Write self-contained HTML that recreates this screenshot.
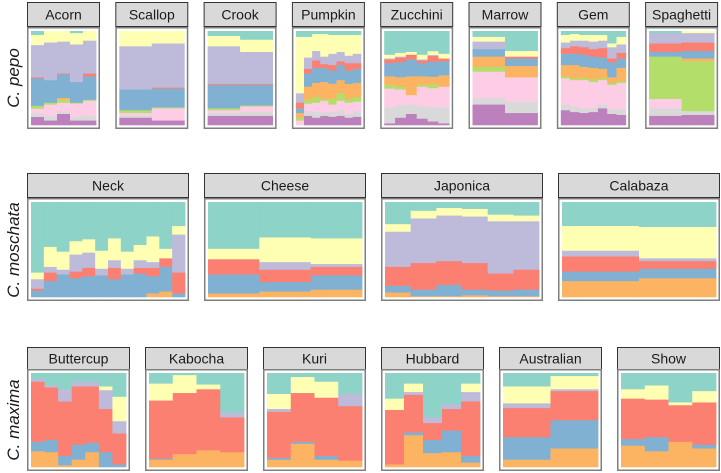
<!DOCTYPE html>
<html><head><meta charset="utf-8"><style>
html,body{margin:0;padding:0;background:#fff;}
svg{display:block;font-family:"Liberation Sans",sans-serif;}
</style></head><body>
<svg id="chart" width="721" height="473" viewBox="0 0 721 473">
<text x="0" y="0" transform="translate(19,78) rotate(-90)" text-anchor="middle" font-size="17" font-style="italic" fill="#1a1a1a">C. pepo</text>
<text x="0" y="0" transform="translate(19,250) rotate(-90)" text-anchor="middle" font-size="17" font-style="italic" fill="#1a1a1a">C. moschata</text>
<text x="0" y="0" transform="translate(19,420) rotate(-90)" text-anchor="middle" font-size="17" font-style="italic" fill="#1a1a1a">C. maxima</text>
</svg>
<script>
// cluster order bottom-up
const clusterColors = ["#BC80BD","#D9D9D9","#FCCDE5","#B3DE69","#FDB462","#80B1D3","#FB8072","#BEBADA","#FFFFB3","#8DD3C7"];
// proportions per individual: [purple, grey, pink, green, orange, blue, red, lavender, yellow, teal]
const pepoNames = ["Acorn","Scallop","Crook","Pumpkin","Zucchini","Marrow","Gem","Spaghetti"];
const acorn = [[9,4,5,3,0,30,1,35,11,4],[5,5,12,2,0,24,0,40,12,0],[12,3,9,3,2,25,1,34,11,0],[5,4,14,1,0,22,0,40,12,2],[5,5,16,1,0,25,3,35,10,0]];
const scallop = [[8,2,3,3,0,22,0,46,16,0],[5,0,13,1,0,20,1,47,13,0]];
const crook = [[10,3,3,2,0,25,1,40,11,5],[10,4,6,1,0,22,1,34,13,9]];
const pumpkin = [[0,0,5,3,5,5,6,10,60,6],[10,5,8,4,14,14,5,12,22,6],[8,6,10,6,15,16,8,10,18,3],[10,4,12,2,18,15,4,8,24,3],[9,5,8,6,16,14,6,12,20,4],[10,6,10,8,14,16,4,10,18,4],[8,4,12,4,16,14,8,8,22,4],[9,6,10,5,15,15,6,10,20,4]];
const zucchini = [[2,17,20,4,9,14,4,1,4,25],[8,13,17,3,10,16,5,1,4,23],[12,10,10,0,20,18,5,0,3,22],[7,13,21,2,9,14,3,1,5,25],[4,15,20,4,8,16,6,1,4,21],[2,17,22,0,12,15,3,0,5,24]];
const marrow = [[22,7,28,5,11,8,0,8,5,6],[13,12,26,0,12,8,2,0,6,21]];
const gem = [[16,6,28,2,12,12,6,6,8,4],[14,6,28,2,14,12,8,6,7,3],[13,5,30,2,12,13,8,7,6,4],[14,4,28,3,12,12,8,8,7,4],[18,4,26,2,10,12,10,8,6,4],[12,5,26,2,6,16,4,12,4,13],[11,6,28,2,14,10,6,9,8,6]];
const spaghetti = [[10,8,10,45,0,5,9,11,0,2],[11,4,0,53,3,8,9,10,2,0]];
const moschataNames = ["Neck","Cheese","Japonica","Calabaza"];
const neck = [[0,0,0,0,0,7,2,10,7,74],[0,0,0,0,0,17,9,6,21,47],[0,0,0,0,0,24,0,5,19,52],[0,0,0,0,0,20,7,18,14,41],[0,0,0,0,0,22,9,16,14,39],[0,0,0,0,0,23,0,7,19,51],[0,0,0,0,0,19,12,8,23,38],[0,0,0,0,0,24,0,6,18,52],[0,0,0,0,0,25,6,8,16,45],[0,0,0,0,4,18,9,6,27,36],[0,0,0,0,6,26,9,0,10,49],[0,0,0,0,0,4,22,40,9,25]];
const cheese = [[0,0,0,0,4,20,16,0,11,49],[0,0,0,0,6,10,13,8,26,37],[0,0,0,0,8,15,9,3,27,38]];
const japonica = [[0,0,0,0,5,7,20,37,8,23],[0,0,0,0,1,7,28,47,8,9],[0,0,0,0,1,12,25,48,8,6],[0,0,0,0,2,6,28,49,8,7],[0,0,0,0,1,6,18,55,7,13],[0,0,0,0,1,7,21,51,6,14]];
const calabaza = [[0,0,0,0,17,10,16,6,26,25],[0,0,0,0,20,10,8,3,33,26]];
const maximaNames = ["Buttercup","Kabocha","Kuri","Hubbard","Australian","Show"];
const buttercup = [[0,0,0,0,17,10,64,3,0,6],[0,0,0,0,16,13,56,2,0,13],[0,0,0,0,2,10,58,13,0,17],[0,0,0,0,8,16,62,5,0,9],[0,0,0,0,16,10,60,5,0,9],[0,0,0,0,0,16,46,20,4,14],[0,0,0,0,0,3,33,13,26,25]];
const kabocha = [[0,0,0,0,8,1,62,0,18,11],[0,0,0,0,14,0,65,0,19,2],[0,0,0,0,18,0,65,0,5,12],[0,0,0,0,16,0,37,5,0,42]];
const kuri = [[0,0,0,0,8,2,49,3,16,22],[0,0,0,0,25,2,52,0,17,4],[0,0,0,0,8,4,62,0,17,9],[0,0,0,0,7,0,58,13,0,22]];
const hubbard = [[0,0,0,0,3,0,58,0,12,27],[0,0,0,0,34,3,40,3,9,11],[0,0,0,0,15,14,18,6,0,47],[0,0,0,0,16,23,23,5,0,33],[0,0,0,0,5,7,58,10,9,11]];
const australian = [[0,0,0,0,8,24,31,5,18,14],[0,0,0,0,20,30,31,2,14,3]];
const show = [[0,0,0,0,23,7,43,0,10,17],[0,0,0,0,17,15,40,0,15,13],[0,0,0,0,27,0,39,0,3,31],[0,0,0,0,20,4,45,0,12,19]];

const svg = document.getElementById('chart');
const NS = 'http://www.w3.org/2000/svg';
function mk(tag, attrs){const e=document.createElementNS(NS,tag);for(const k in attrs)e.setAttribute(k,attrs[k]);return e;}

const rows = [
  {names: pepoNames, data:[acorn,scallop,crook,pumpkin,zucchini,marrow,gem,spaghetti], x0:27, w:73, step:88.3, sy:2, sh:24, py:27, ph:102, fs:14},
  {names: moschataNames, data:[neck,cheese,japonica,calabaza], x0:27, w:162, step:177, sy:173, sh:24, py:198, ph:103, fs:14},
  {names: maximaNames, data:[buttercup,kabocha,kuri,hubbard,australian,show], x0:27, w:103, step:118, sy:347, sh:22, py:369, ph:102, fs:14}
];

rows.forEach(row=>{
  row.names.forEach((name,pi)=>{
    const x = row.x0 + pi*row.step;
    const slug = name.toLowerCase();
    const g = mk('g',{});
    
    
    const strip = mk('rect',{x:x+0.5,y:row.sy+0.5,width:row.w-1,height:row.sh,fill:'#D9D9D9',stroke:'#333','stroke-width':1});
    
    
    g.appendChild(strip);
    const t = mk('text',{x:x+row.w/2,y:row.sy+row.sh/2+5.5,'text-anchor':'middle','font-size':row.fs,fill:'#1a1a1a'});
    t.textContent = name;
    
    
    g.appendChild(t);
    // data area
    const bars = row.data[pi];
    const ix = x+4, iw = row.w-8, iy = row.py+4, ih = row.ph-8;
    const bw = iw / bars.length;
    const yScale = v => iy + ih - v*ih;
    bars.forEach((b,bi)=>{
      const tot = b.reduce((a,c)=>a+c,0);
      let cum = 0;
      b.forEach((v,ci)=>{
        if(v<=0) return;
        const p = v/tot;
        const y1 = yScale(cum+p), y2 = yScale(cum);
        const r = mk('rect',{x:ix+bi*bw,y:y1,width:bw+0.4,height:y2-y1+0.3,fill:clusterColors[ci]});
        
        
        g.appendChild(r);
        cum += p;
      });
    });
    const border = mk('rect',{x:x+0.75,y:row.py+0.75,width:row.w-1.5,height:row.ph-1.5,fill:'none',stroke:'#7F7F7F','stroke-width':1.5});
    
    
    g.appendChild(border);
    svg.appendChild(g);
  });
});
</script>
</body></html>
